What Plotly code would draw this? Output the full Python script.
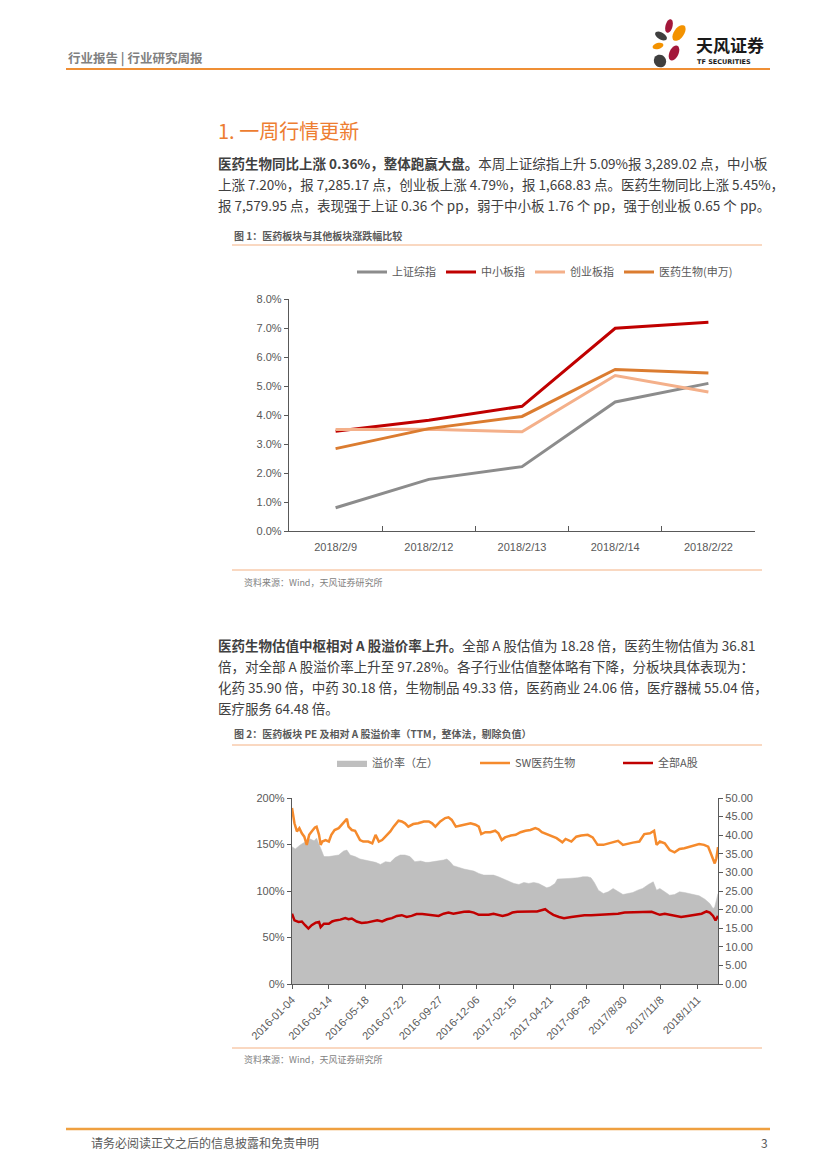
import math
import plotly.graph_objects as go

W, H = 827, 1169


def px(x):
    return x / W


def py(y):
    return 1 - y / H


# ---- chart 1: weekly index moves ----
days1 = ["2018/2/9", "2018/2/12", "2018/2/13", "2018/2/14", "2018/2/22"]
sh_comp = [0.0080, 0.0178, 0.0222, 0.0445, 0.0509]
sme_idx = [0.0344, 0.0382, 0.0430, 0.0699, 0.0720]
gem_idx = [0.0350, 0.0351, 0.0342, 0.0536, 0.0479]
sw_pharma = [0.0284, 0.0353, 0.0395, 0.0557, 0.0545]

# ---- chart 2: PE and premium (x = trading-day index from 2016-01-04) ----
tick_pos = [0, 45, 90, 135, 180, 225, 270, 315, 360, 405, 450, 495]
tick_txt = ["2016-01-04", "2016-03-14", "2016-05-18", "2016-07-22", "2016-09-27",
            "2016-12-06", "2017-02-15", "2017-04-21", "2017-06-28", "2017/8/30",
            "2017/11/8", "2018/1/11"]

sw_day = [0, 3, 6, 9, 12, 15, 18, 21, 24, 28, 30, 33, 35, 37, 41, 45, 48, 52, 57, 62,
          67, 69, 73, 77, 80, 83, 87, 93, 98, 102, 106, 110, 114, 120, 124, 130, 134,
          138, 142, 148, 154, 161, 167, 171, 175, 181, 187, 191, 195, 200, 206, 212,
          218, 224, 228, 231, 236, 242, 248, 252, 256, 260, 267, 273, 279, 285, 291,
          297, 301, 305, 311, 317, 323, 330, 334, 341, 347, 353, 361, 367, 373, 380,
          386, 392, 398, 404, 410, 416, 424, 430, 437, 442, 445, 449, 455, 461, 467,
          473, 479, 485, 491, 497, 503, 508, 512, 516, 518, 520]
sw_pe = [47.3, 43.2, 41.0, 41.9, 40.5, 39.6, 37.4, 40.1, 41.0, 42.1, 42.3, 40.1, 37.4,
         38.3, 38.7, 38.3, 40.1, 41.4, 41.9, 43.2, 44.4, 42.3, 41.4, 41.2, 40.1, 38.7,
         38.3, 38.3, 37.8, 40.1, 38.3, 38.7, 39.6, 41.0, 42.3, 43.9, 43.7, 43.2, 42.3,
         43.0, 43.2, 43.7, 43.7, 43.2, 42.3, 43.7, 44.6, 44.8, 44.1, 42.3, 42.6, 43.0,
         43.2, 42.8, 42.3, 40.3, 40.8, 40.8, 41.2, 40.5, 38.7, 39.4, 39.9, 40.1, 40.8,
         41.2, 41.4, 41.9, 41.6, 40.8, 40.3, 39.6, 39.2, 38.1, 39.0, 38.3, 39.6, 39.9,
         40.1, 39.4, 37.4, 37.4, 37.8, 38.1, 38.5, 37.4, 37.8, 38.0, 38.3, 40.3, 40.5,
         41.2, 37.4, 38.3, 37.8, 36.0, 35.4, 36.3, 36.5, 36.9, 37.4, 37.6, 37.4, 36.9,
         34.7, 32.4, 33.8, 36.8]

a_day = [0, 3, 8, 12, 16, 20, 24, 29, 33, 35, 39, 45, 49, 53, 59, 65, 69, 73, 79, 85,
         91, 98, 104, 110, 116, 122, 128, 134, 140, 146, 152, 159, 167, 173, 179, 185,
         191, 197, 204, 210, 216, 222, 228, 234, 240, 246, 252, 257, 263, 269, 275,
         281, 287, 293, 299, 305, 309, 313, 319, 326, 332, 341, 349, 357, 365, 374,
         382, 390, 398, 406, 414, 422, 430, 439, 445, 449, 455, 461, 467, 475, 483,
         491, 500, 506, 510, 514, 517, 520]
a_pe = [18.9, 17.1, 16.7, 16.8, 15.8, 14.9, 15.8, 16.5, 16.7, 15.3, 16.2, 16.2, 16.8,
        17.1, 17.3, 17.7, 17.4, 17.6, 16.8, 16.4, 16.5, 16.8, 17.1, 16.8, 17.4, 17.7,
        18.3, 18.5, 18.0, 18.3, 18.8, 18.8, 18.6, 18.5, 18.3, 18.9, 19.2, 18.9, 19.2,
        19.4, 19.5, 19.2, 18.6, 18.6, 18.6, 18.9, 18.6, 18.3, 18.6, 19.2, 19.4, 19.5,
        19.6, 19.5, 19.5, 19.8, 20.1, 19.4, 18.6, 18.0, 17.7, 18.0, 18.3, 18.5, 18.5,
        18.6, 18.7, 18.8, 18.9, 19.2, 19.2, 19.2, 19.4, 19.4, 18.9, 18.6, 18.9, 18.6,
        18.3, 18.0, 18.3, 18.6, 18.9, 19.5, 19.2, 18.3, 17.1, 18.3]

prem_day = [0, 4, 10, 16, 22, 27, 30, 35, 39, 45, 51, 57, 63, 67, 71, 77, 83, 89, 96,
            102, 108, 114, 120, 126, 132, 138, 144, 150, 157, 163, 167, 173, 179, 185,
            189, 193, 197, 204, 210, 216, 222, 228, 234, 240, 246, 252, 258, 265, 271,
            277, 283, 289, 295, 301, 307, 311, 315, 321, 324, 330, 338, 349, 355, 361,
            365, 369, 374, 380, 386, 392, 398, 404, 410, 416, 422, 428, 435, 441, 445,
            449, 455, 461, 467, 473, 479, 485, 491, 497, 504, 510, 514, 516, 520]
premium = [1.477, 1.452, 1.495, 1.532, 1.560, 1.539, 1.568, 1.460, 1.370, 1.370, 1.377,
           1.387, 1.430, 1.440, 1.387, 1.370, 1.344, 1.333, 1.323, 1.308, 1.286, 1.315,
           1.308, 1.359, 1.387, 1.387, 1.370, 1.315, 1.323, 1.308, 1.308, 1.315, 1.323,
           1.333, 1.344, 1.315, 1.272, 1.250, 1.236, 1.225, 1.214, 1.189, 1.171, 1.171,
           1.171, 1.153, 1.128, 1.099, 1.081, 1.070, 1.092, 1.081, 1.092, 1.081, 1.056,
           1.034, 1.045, 1.081, 1.128, 1.128, 1.135, 1.142, 1.153, 1.153, 1.142, 1.092,
           1.009, 0.973, 0.991, 1.027, 0.991, 0.962, 0.973, 0.984, 1.009, 1.027, 1.070,
           1.099, 1.009, 1.027, 0.991, 0.955, 0.962, 0.991, 0.984, 0.973, 0.962, 0.948,
           0.912, 0.865, 0.811, 0.829, 0.973]

CJK = "Noto Sans CJK SC"
NUM = "Liberation Sans, Noto Sans CJK SC"
AXC = "#595959"

fig = go.Figure()

fig.add_trace(go.Scatter(x=days1, y=sh_comp, name="上证综指", mode="lines",
                         line=dict(color="#8c8c8c", width=3), legend="legend"))
fig.add_trace(go.Scatter(x=days1, y=sme_idx, name="中小板指", mode="lines",
                         line=dict(color="#c00000", width=3), legend="legend"))
fig.add_trace(go.Scatter(x=days1, y=gem_idx, name="创业板指", mode="lines",
                         line=dict(color="#f4b08a", width=3), legend="legend"))
fig.add_trace(go.Scatter(x=days1, y=sw_pharma, name="医药生物(申万)", mode="lines",
                         line=dict(color="#db7c30", width=3), legend="legend"))

fig.add_trace(go.Scatter(x=prem_day, y=premium, name="溢价率（左）", mode="lines",
                         fill="tozeroy", fillcolor="#bfbfbf",
                         line=dict(color="#bfbfbf", width=0.5),
                         xaxis="x2", yaxis="y2", legend="legend2"))
fig.add_trace(go.Scatter(x=sw_day, y=sw_pe, name="SW医药生物", mode="lines",
                         line=dict(color="#f58a2c", width=2.5),
                         xaxis="x2", yaxis="y3", legend="legend2"))
fig.add_trace(go.Scatter(x=a_day, y=a_pe, name="全部A股", mode="lines",
                         line=dict(color="#c00000", width=2.5),
                         xaxis="x2", yaxis="y3", legend="legend2"))

tickfont = dict(family=NUM, size=11, color=AXC)
common = dict(showline=True, linecolor=AXC, linewidth=1.3, showgrid=False,
              tickcolor=AXC, tickfont=tickfont, zeroline=False, automargin=False)

fig.update_layout(
    template="none",
    width=W, height=H,
    margin=dict(l=0, r=0, t=0, b=0, pad=0, autoexpand=False),
    paper_bgcolor="white", plot_bgcolor="rgba(0,0,0,0)",
    font=dict(family=CJK, color="#404040"),
    xaxis=dict(domain=[px(289), px(755)], anchor="y", type="category",
               range=[-0.5, len(days1) - 0.5],
               ticks="inside", tickson="boundaries", ticklen=5,
               ticklabelstandoff=6, **common),
    yaxis=dict(domain=[py(531), py(299)], anchor="x", range=[0, 0.08], dtick=0.01,
               tickformat=".1%", ticks="outside", ticklen=4, **common),
    xaxis2=dict(domain=[px(292), px(718)], anchor="y2", range=[0, 520],
                tickvals=tick_pos, ticktext=tick_txt, tickangle=-45,
                ticks="outside", ticklen=4, **common),
    yaxis2=dict(domain=[py(984), py(798)], anchor="x2", range=[0, 2], dtick=0.5,
                tickformat=".0%", ticks="outside", ticklen=4, **common),
    yaxis3=dict(overlaying="y2", anchor="x2", side="right", range=[0, 50], dtick=5,
                tickformat=".2f", ticks="outside", ticklen=4, **common),
    legend=dict(orientation="h", x=px(352), y=py(272), xanchor="left",
                yanchor="middle", font=dict(family=CJK, size=11, color=AXC),
                bgcolor="rgba(0,0,0,0)", itemwidth=30),
    legend2=dict(orientation="h", x=px(332), y=py(763), xanchor="left",
                 yanchor="middle", font=dict(family=CJK, size=11, color=AXC),
                 bgcolor="rgba(0,0,0,0)", itemwidth=30, entrywidth=98),
)

# ---- page text ----
ann = []


def text(x, y, s, size, color="#404040", anchor="left", family=CJK):
    ann.append(dict(x=px(x), y=py(y), xref="paper", yref="paper", text=s,
                    showarrow=False, xanchor=anchor, yanchor="middle",
                    font=dict(family=family, size=size, color=color)))


text(66, 57, "<b>行业报告 | 行业研究周报</b>", 12.5, "#808080")
text(216, 131, "1. 一周行情更新", 20, "#ed7d31")

para1 = [
    "<b>医药生物同比上涨 0.36%，整体跑赢大盘。</b>本周上证综指上升 5.09%报 3,289.02 点，中小板",
    "上涨 7.20%，报 7,285.17 点，创业板上涨 4.79%，报 1,668.83 点。医药生物同比上涨 5.45%，",
    "报 7,579.95 点，表现强于上证 0.36 个 pp，弱于中小板 1.76 个 pp，强于创业板 0.65 个 pp。",
]
for i, line in enumerate(para1):
    text(216, 163 + 21 * i, line, 13.5)

text(232, 235, "<b>图 1：医药板块与其他板块涨跌幅比较</b>", 10, "#595959")
text(242, 582, "资料来源：Wind，天风证券研究所", 9, "#7f7f7f")

para2 = [
    "<b>医药生物估值中枢相对 A 股溢价率上升。</b>全部 A 股估值为 18.28 倍，医药生物估值为 36.81",
    "倍，对全部 A 股溢价率上升至 97.28%。各子行业估值整体略有下降，分板块具体表现为：",
    "化药 35.90 倍，中药 30.18 倍，生物制品 49.33 倍，医药商业 24.06 倍，医疗器械 55.04 倍，",
    "医疗服务 64.48 倍。",
]
for i, line in enumerate(para2):
    text(216, 645 + 21 * i, line, 13.5)

text(232, 733, "<b>图 2：医药板块 PE 及相对 A 股溢价率（TTM，整体法，剔除负值）</b>", 10, "#595959")
text(242, 1059, "资料来源：Wind，天风证券研究所", 9, "#7f7f7f")

text(89, 1142, "请务必阅读正文之后的信息披露和免责申明", 12, "#595959")
text(770, 1142, "3", 12, "#595959", anchor="right")

text(694, 45, "<b>天风证券</b>", 17, "#1a1a1a")
text(695, 62, "<b>TF SECURITIES</b>", 6.5, "#1a1a1a", family="DejaVu Sans")

# ---- rules and logo ----
shapes = []


def hline(x0, x1, y, color, width):
    shapes.append(dict(type="line", xref="paper", yref="paper", x0=px(x0), x1=px(x1),
                       y0=py(y), y1=py(y), line=dict(color=color, width=width)))


hline(66, 770, 69, "#ef8f35", 2)
hline(232, 762, 245, "#f4b183", 1)
hline(232, 762, 570, "#f4b183", 1)
hline(232, 762, 745, "#f4b183", 1)
hline(232, 762, 1048, "#f4b183", 1)
hline(66, 770, 1129, "#efa040", 2.5)


def petal(cx, cy, rx, ry, ang, color):
    a = math.radians(ang)
    pts = []
    for k in range(24):
        t = 2 * math.pi * k / 24
        x = cx + rx * math.cos(t) * math.cos(a) - ry * math.sin(t) * math.sin(a)
        y = cy + rx * math.cos(t) * math.sin(a) + ry * math.sin(t) * math.cos(a)
        pts.append(f"{px(x):.5f},{py(y):.5f}")
    shapes.append(dict(type="path", xref="paper", yref="paper",
                       path="M" + " L".join(pts) + " Z",
                       fillcolor=color, line=dict(width=0)))


petal(669, 26, 3.5, 7, 15, "#a3173a")
petal(679, 33, 5, 9, 35, "#f39200")
petal(661, 36, 6.5, 3.5, 30, "#3f3f3f")
petal(658, 46, 5.5, 3, -15, "#f39200")
petal(674, 53, 4.5, 8, 25, "#a3173a")
petal(660, 61, 6, 6.5, -30, "#3f3f3f")

fig.update_layout(annotations=ann, shapes=shapes)

fig.write_html("out.html", config={"displayModeBar": False},
               post_script="document.body.style.margin='0';")
